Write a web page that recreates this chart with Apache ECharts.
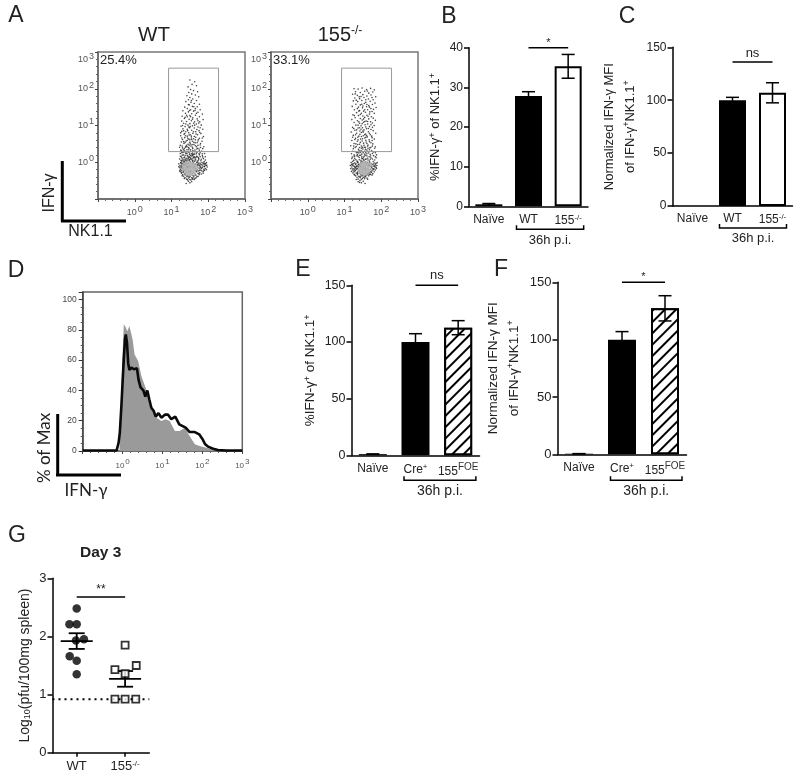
<!DOCTYPE html>
<html>
<head>
<meta charset="utf-8">
<title>Figure</title>
<script src="https://cdn.jsdelivr.net/npm/echarts@6/dist/echarts.min.js"></script>
<style>
  html, body { margin: 0; padding: 0; background: #fff; }
  #main { width: 800px; height: 778px; }
</style>
</head>
<body>
<div id="main"></div>
<script>
"use strict";
var FONT = '"Liberation Sans", Arial, sans-serif';

// panel A, dots as x,y pairs in hundredths of a decade
var wtDots = [
150,224, 163,219, 156,212, 145,205, 168,208, 152,198, 160,195, 147,190, 171,192, 155,186, 142,181, 165,183, 150,176, 174,178, 158,172, 146,170, 168,168, 139,165, 153,163, 162,160, 176,158, 148,156, 157,152, 136,150, 170,151, 143,146, 165,146, 152,143, 178,143, 131,140, 160,139, 146,137, 172,136, 138,133, 155,132, 184,131, 150,127, 165,128, 129,125, 143,124, 176,124, 158,121, 135,119, 170,118, 148,117, 186,116, 154,113, 128,112, 141,111, 163,110, 177,110, 133,106, 150,105, 168,104, 145,101, 181,101, 157,99, 126,98, 137,97, 172,96, 149,94, 162,93, 131,91, 143,90, 185,90, 155,87, 175,86, 128,84, 139,83, 166,83, 147,80, 158,79, 180,78, 134,76, 151,75, 171,75, 125,72, 143,71, 162,70, 187,70, 136,67, 154,66, 176,65, 147,63, 130,62, 165,61, 140,58, 157,57, 183,57, 127,55, 150,54, 170,53, 134,51, 145,49, 161,48, 178,47, 124,46, 153,44, 139,43, 168,42, 188,42, 130,39, 148,38, 158,37, 175,36, 142,34, 125,33, 164,33, 135,31, 152,30, 182,30, 146,28, 170,28, 128,26, 157,25, 139,24, 190,24, 163,22, 149,21, 132,20, 176,20, 143,18, 155,17, 124,16, 168,16, 136,14, 185,14, 150,13, 160,12, 129,11, 145,10, 174,10, 139,8, 155,7, 166,6, 192,6, 126,5, 148,5, 180,4, 133,3, 158,2, 142,1, 170,1,
154,168, 161,151, 149,141, 168,133, 141,128, 157,117, 172,113, 139,104, 163,101, 151,97, 144,86, 169,89, 133,86, 160,83, 177,81, 148,74, 138,72, 166,68, 155,62, 143,60, 172,58, 133,56, 161,54, 151,50, 179,51, 141,46, 129,44, 165,45, 157,41, 146,40, 135,37, 171,38, 152,34, 162,29, 140,28, 178,26, 131,27, 149,25, 168,23, 157,21, 137,19, 184,18, 145,16, 161,15, 127,14, 173,13, 152,11, 140,11, 164,9, 134,8, 181,8, 148,7, 158,5, 128,3, 172,4, 141,4, 151,2, 163,3, 189,2, 136,1,
125,-1, 133,-2, 142,-3, 151,-1, 160,-2, 169,-1, 178,-3, 187,-2, 195,-1, 128,-5, 137,-6, 146,-5, 155,-7, 164,-6, 173,-5, 182,-7, 191,-6, 123,-8, 131,-9, 140,-10, 149,-9, 158,-8, 167,-10, 176,-9, 185,-10, 194,-9, 126,-12, 135,-13, 144,-12, 153,-14, 162,-12, 171,-13, 180,-14, 189,-12, 197,-13, 122,-15, 130,-16, 139,-17, 148,-15, 157,-16, 166,-17, 175,-16, 184,-15, 192,-17, 125,-19, 134,-20, 143,-19, 152,-21, 161,-19, 170,-20, 179,-21, 188,-19, 128,-23, 137,-22, 146,-24, 155,-23, 164,-22, 173,-24, 182,-23, 190,-22, 124,-26, 132,-27, 141,-26, 150,-28, 159,-27, 168,-26, 177,-28, 186,-26, 127,-30, 136,-31, 145,-30, 154,-32, 163,-31, 172,-30, 181,-32, 130,-34, 139,-35, 148,-34, 157,-36, 166,-35, 175,-34, 133,-38, 142,-39, 151,-38, 160,-40, 169,-38, 137,-42, 146,-43, 155,-42, 164,-44, 141,-46, 150,-47, 158,-46, 146,-52, 155,-53, 140,-58,
129,-3, 147,-2, 165,-4, 183,-1, 136,-9, 154,-11, 172,-8, 190,-11, 127,-15, 145,-18, 163,-14, 181,-17, 133,-24, 151,-25, 169,-23, 187,-24, 139,-29, 157,-29, 175,-31, 143,-36, 161,-37, 149,-41, 135,-33, 167,-42, 153,-48, 127,-10, 193,-4, 124,-21, 178,-12, 142,-14, 160,-10, 138,-4, 156,-3, 174,-2, 131,-12, 149,-6,
146,157, 164,141, 137,122, 152,124, 174,107, 160,106, 130,100, 147,96, 178,94, 167,77, 125,80, 136,78, 154,71, 184,66, 144,66, 128,66, 173,62, 160,64, 137,54, 148,46, 179,40, 122,41, 132,34, 144,29, 167,28, 158,31, 175,23, 129,19, 138,29, 152,18, 160,22, 184,23, 146,12, 122,9, 170,15, 134,13, 156,11, 178,15, 143,6, 163,14, 130,6, 187,10, 151,8, 174,7, 137,5, 192,15, 124,24, 148,15, 166,12, 158,18, 154,23, 142,23, 134,28, 176,31, 147,34, 169,36, 127,31, 138,41, 185,37, 156,48, 165,53, 142,42, 150,61, 172,46,
120,-12, 195,-20, 128,-28, 138,-16, 147,-12, 158,-13, 170,-6, 186,-5, 133,-7, 143,-6, 126,-2, 152,-9, 178,-7, 190,-3, 120,-4, 196,-8, 132,-19, 165,-24, 176,-22, 186,-30, 122,-24, 147,-38, 157,-44, 135,-44, 129,-37, 172,-39, 144,-48, 162,-47, 150,-56
];
var wtCore = [
135,-8, 142,-14, 149,-6, 156,-12, 163,-8, 138,-20, 146,-22, 153,-18, 160,-24, 141,-30, 149,-32, 134,-14, 152,-4, 144,-2, 168,-16, 157,-30
];
var koDots = [
126,200, 137,199, 148,202, 160,198, 171,201, 181,197, 130,192, 143,190, 155,193, 166,188, 177,191, 122,185, 135,182, 150,184, 161,180, 172,183, 185,178, 128,175, 141,173, 153,176, 165,172, 178,170, 124,167, 136,165, 147,168, 158,163, 170,166, 183,161, 131,158, 143,156, 154,160, 166,154, 176,157, 121,152, 138,150, 149,148, 160,151, 172,146, 186,149, 127,143, 141,141, 152,139, 163,143, 175,138, 133,135, 146,133, 157,136, 168,131, 181,133, 123,129, 138,127, 150,126, 161,128, 173,124, 129,121, 143,119, 155,122, 166,118, 178,120, 120,116, 135,113, 148,115, 159,112, 171,110, 184,114, 126,108, 141,106, 152,109, 163,104, 176,107, 131,101, 145,99, 156,102, 168,97, 181,100, 122,95, 137,93, 149,94, 160,91, 172,89, 128,87, 142,85, 153,88, 165,83, 178,86, 118,82, 133,79, 146,81, 157,77, 170,75, 185,79, 124,73, 139,71, 151,72, 162,69, 175,67, 130,65, 144,63, 155,66, 167,61, 181,63, 120,59, 135,57, 148,58, 159,55, 172,53, 126,51, 141,49, 152,52, 164,47, 177,50, 117,45, 132,43, 146,44, 157,41, 169,39, 184,42, 124,37, 138,35, 150,36, 161,33, 174,31, 129,29, 143,27, 155,30, 166,25, 179,28, 119,23, 135,21, 147,22, 158,19, 171,17, 187,20, 126,15, 140,13, 152,14, 163,11, 176,9, 131,7, 145,5, 157,8, 168,3, 182,6, 122,2, 136,1, 149,2,
140,178, 158,170, 147,158, 168,150, 135,146, 155,143, 143,130, 164,125, 152,118, 139,110, 172,102, 158,96, 145,90, 133,88, 165,92, 151,82, 142,76, 160,73, 174,71, 136,68, 149,64, 158,60, 128,62, 168,56, 143,54, 153,46, 136,48, 163,44, 176,44, 146,38, 129,40, 157,35, 168,34, 140,31, 151,26, 133,26, 161,23, 176,24, 144,19, 126,20, 154,17, 167,15, 137,16, 147,11, 159,9, 128,10, 172,12, 140,7, 153,5, 164,6, 134,3, 145,1, 178,2, 158,1, 125,5, 186,12, 184,26, 122,30, 120,10, 148,29, 155,75,
118,-1, 127,-2, 136,-1, 145,-3, 154,-2, 163,-1, 172,-3, 181,-2, 189,-1, 121,-5, 130,-6, 139,-5, 148,-7, 157,-5, 166,-6, 175,-7, 184,-5, 116,-9, 125,-10, 134,-9, 143,-11, 152,-10, 161,-9, 170,-11, 179,-10, 188,-9, 120,-13, 129,-14, 138,-13, 147,-15, 156,-14, 165,-13, 174,-15, 183,-13, 117,-17, 126,-18, 135,-17, 144,-19, 153,-18, 162,-17, 171,-19, 180,-18, 187,-17, 121,-21, 130,-22, 139,-21, 148,-23, 157,-22, 166,-21, 175,-23, 184,-21, 119,-25, 128,-26, 137,-25, 146,-27, 155,-26, 164,-25, 173,-27, 181,-26, 123,-29, 132,-30, 141,-29, 150,-31, 159,-30, 168,-29, 177,-31, 126,-33, 135,-34, 144,-33, 153,-35, 162,-34, 171,-33, 130,-37, 139,-38, 148,-37, 157,-39, 166,-37, 134,-41, 143,-42, 152,-41, 161,-43, 137,-46, 146,-47, 155,-45, 142,-50, 151,-52, 146,-56, 137,-53,
124,-4, 142,-8, 160,-4, 178,-5, 133,-12, 151,-13, 169,-8, 186,-14, 127,-21, 145,-16, 163,-20, 141,-24, 159,-27, 177,-18, 135,-28, 153,-29, 171,-26, 147,-34, 165,-31, 140,-40, 158,-36, 131,-16, 149,-20, 122,-8, 138,-7, 156,-9, 174,-12, 183,-8,
129,186, 162,194, 175,176, 145,179, 132,169, 161,157, 150,153, 139,139, 179,144, 127,127, 169,137, 148,105, 137,101, 155,111, 176,95, 125,92, 163,111, 141,94, 150,85, 168,79, 130,75, 137,61, 175,59, 146,70, 158,68, 122,68, 164,38, 154,41, 131,50, 141,40, 172,41, 125,44, 149,41, 161,51, 182,38, 136,27, 147,15, 158,27, 170,8, 128,17, 141,19, 179,18, 152,8, 164,29, 134,18, 121,14, 184,15, 145,32, 139,25, 170,21, 155,22, 149,10, 161,17,
119,-7, 128,-12, 137,-11, 146,-9, 165,-10, 182,-11, 131,-3, 150,-1, 168,-2, 186,-3, 123,-18, 133,-19, 143,-16, 157,-18, 179,-20, 125,-24, 136,-31, 150,-26, 161,-31, 168,-33, 175,-35, 128,-35, 144,-38, 155,-40, 163,-46, 132,-47, 149,-44, 141,-55, 156,-58
];
var koCore = [
145,-12, 152,-8, 160,-14, 166,-20, 148,-18, 156,-24, 162,-28, 142,-22, 150,-4, 158,-2, 168,-8, 154,-30, 146,-28
];
var gateBox = [[0.92, 0.29], [2.28, 0.29], [2.28, 2.56], [0.92, 2.56], [0.92, 0.29]];

// panel D, histogram outlines as [log10 x, % of max]
var histGray = [[-1, 0], [-0.08, 0], [-0.05, 18.7], [-0.01, 58], [0.03, 83.7], [0.08, 81.5], [0.12, 79], [0.17, 82.5], [0.21, 83.7], [0.25, 73.8], [0.30, 63.8], [0.39, 59.4], [0.47, 49.5], [0.56, 43], [0.62, 38.5], [0.70, 28.6], [0.85, 22], [0.97, 19.8], [1.08, 21], [1.18, 19.8], [1.31, 13.2], [1.43, 13.2], [1.56, 15.4], [1.68, 9.9], [1.81, 4.4], [1.93, 3.3], [2.10, 2.2], [2.31, 0.4], [3, 0]];
var histBlack = [[-1, 0.3], [-0.15, 0.3], [-0.10, 5.5], [-0.07, 12], [-0.03, 30], [0.02, 56], [0.06, 74], [0.08, 77], [0.11, 71.5], [0.14, 58], [0.17, 53.5], [0.22, 55], [0.28, 54], [0.36, 54.6], [0.40, 47], [0.45, 42], [0.52, 40], [0.57, 36], [0.62, 40], [0.67, 34], [0.72, 28.6], [0.78, 26.4], [0.83, 22.7], [0.90, 25], [0.97, 22], [1.06, 24], [1.14, 24], [1.22, 21], [1.32, 22.7], [1.42, 17.6], [1.47, 18.3], [1.58, 15.4], [1.68, 12.5], [1.81, 12.5], [1.92, 11], [2.00, 8], [2.07, 4.4], [2.14, 2.9], [2.27, 1.5], [2.39, 0.7], [2.60, 0.3], [3, 0.3]];

// bar panels
var catsKo = ['Naïve', 'WT', '155{s|-/-}'];
var catsFoe = ['Naïve', 'Cre{s|+}', '155{f|FOE}'];
var valuesB = [0.5, 27.8, 35.3];
var errorsB = [0.2, 1.1, 3];
var valuesC = [0, 100, 107];
var errorsC = [0, 2.7, 9.5];
var valuesE = [1, 100, 112.6];
var errorsE = [0.2, 7.3, 6.2];
var valuesF = [0.5, 100, 127.3];
var errorsF = [0.1, 7, 11];

// panel G
var catsG = ['WT', '155{s|-/-}'];
var pointsWt = [[0, 2.48], [-0.15, 2.21], [0, 2.21], [0.15, 1.95], [-0.015, 1.93], [-0.145, 1.66], [0, 1.58], [0, 1.35]];
var pointsKo = [[1, 1.85], [0.79, 1.43], [1.23, 1.5], [1, 1.36], [0.79, 0.92], [1, 0.92], [1.22, 0.92]];
var summaryG = [[0, 1.92, 0.135], [1, 1.27, 0.135]];
var detectionLimit = [[-0.5, 0.92], [1.5, 0.92]];

function pairs(flat) {
  var out = [];
  for (var i = 0; i < flat.length; i += 2) {
    out.push([flat[i] / 100, flat[i + 1] / 100]);
  }
  return out;
}

var grid = [], xAxis = [], yAxis = [], series = [];
var supRich = {
  s: { fontSize: 8, padding: [0, 0, 6, 0], fontFamily: FONT, color: '#222' },
  f: { fontSize: 10, padding: [0, 0, 8, 0], fontFamily: FONT, color: '#333' }
};
var HATCH = { symbol: 'rect', symbolSize: 1, dashArrayX: [1, 0], dashArrayY: [2, 6], rotation: -Math.PI / 4, color: '#000', backgroundColor: '#fff' };

function decadeLabel(v) {
  return v < 0 ? '' : '{a|10}{b|' + v + '}';
}

function logAxis(fontSize, margin) {
  return {
    type: 'value', min: -1, max: 3, interval: 1,
    splitLine: { show: false },
    axisLine: { show: true, onZero: false, lineStyle: { color: '#666', width: 1.5 } },
    axisTick: { show: true, length: 3, lineStyle: { color: '#444' } },
    minorTick: { show: true, splitNumber: 5, length: 2, lineStyle: { color: '#666' } },
    axisLabel: {
      margin: margin, formatter: decadeLabel,
      rich: {
        a: { fontSize: fontSize, color: '#555', fontFamily: FONT },
        b: { fontSize: fontSize, color: '#555', fontFamily: FONT, padding: [0, 0, 7, 1] }
      }
    }
  };
}

function addFlow(left, dots, core) {
  var i = grid.length;
  grid.push({ left: left, top: 52, width: 147, height: 147, show: true, borderColor: '#777', borderWidth: 1.5 });
  xAxis.push(logAxis(9, 6));
  var y = logAxis(9, 4);
  y.axisLabel.verticalAlignMaxLabel = 'top';
  yAxis.push(y);
  series.push({ type: 'scatter', xAxisIndex: i, yAxisIndex: i, data: pairs(dots), symbolSize: 1.6, itemStyle: { color: '#1a1a1a' }, silent: true });
  series.push({ type: 'scatter', xAxisIndex: i, yAxisIndex: i, data: pairs(core), symbolSize: 5, itemStyle: { color: '#b5b5b5', opacity: 0.75 }, silent: true, z: 3 });
  series.push({ type: 'line', xAxisIndex: i, yAxisIndex: i, data: gateBox, symbol: 'none', lineStyle: { color: '#999', width: 1 }, silent: true });
}

function errorSeries(i, values, errors, capHalf) {
  var data = [];
  for (var k = 0; k < values.length; k++) {
    if (errors[k] > 0) { data.push([k, values[k], errors[k]]); }
  }
  return {
    type: 'custom', xAxisIndex: i, yAxisIndex: i, data: data, z: 4, silent: true,
    renderItem: function (params, api) {
      var hi = api.coord([api.value(0), api.value(1) + api.value(2)]);
      var lo = api.coord([api.value(0), api.value(1) - api.value(2)]);
      var st = { stroke: '#000', lineWidth: 1.5, fill: null };
      return {
        type: 'group', children: [
          { type: 'line', shape: { x1: hi[0], y1: hi[1], x2: lo[0], y2: lo[1] }, style: st },
          { type: 'line', shape: { x1: hi[0] - capHalf, y1: hi[1], x2: hi[0] + capHalf, y2: hi[1] }, style: st },
          { type: 'line', shape: { x1: lo[0] - capHalf, y1: lo[1], x2: lo[0] + capHalf, y2: lo[1] }, style: st }
        ]
      };
    }
  };
}

// significance bar drawn from group to group, label sits above it
function sigSeries(i, from, to, level, label, dy, fontSize) {
  return {
    type: 'custom', xAxisIndex: i, yAxisIndex: i, data: [[from, to, level]], z: 5, silent: true,
    encode: { x: 0, y: 2 },
    renderItem: function (params, api) {
      var a = api.coord([api.value(0), api.value(2)]);
      var b = api.coord([api.value(1), api.value(2)]);
      return {
        type: 'group', children: [
          { type: 'line', shape: { x1: a[0], y1: a[1], x2: b[0], y2: b[1] }, style: { stroke: '#000', lineWidth: 1.5 } },
          { type: 'text', style: { text: label, x: (a[0] + b[0]) / 2, y: a[1] + dy, textAlign: 'center', textVerticalAlign: 'middle', fontSize: fontSize, fontFamily: FONT, fill: '#222' } }
        ]
      };
    }
  };
}

// "36h p.i." bracket under the two treated groups
function bracketSeries(i, cfg) {
  return {
    type: 'custom', xAxisIndex: i, yAxisIndex: i, data: [[1, 2, 0]], z: 5, silent: true,
    encode: { x: 0, y: 2 },
    renderItem: function (params, api) {
      var a = api.coord([api.value(0), 0]);
      var b = api.coord([api.value(1), 0]);
      var x1 = a[0] - cfg.dl, x2 = b[0] + cfg.dr, y = a[1] + cfg.dy;
      return {
        type: 'group', children: [
          { type: 'polyline', shape: { points: [[x1, y - 4], [x1, y], [x2, y], [x2, y - 4]] }, style: { stroke: '#000', lineWidth: 1.5, fill: null } },
          { type: 'text', style: { text: '36h p.i.', x: (x1 + x2) / 2, y: a[1] + cfg.dt, textAlign: 'center', textVerticalAlign: 'middle', fontSize: cfg.fs, fontFamily: FONT, fill: '#222' } }
        ]
      };
    }
  };
}

function addBars(cfg) {
  var i = grid.length;
  grid.push({ left: cfg.left, top: cfg.top, width: cfg.width, height: cfg.height });
  xAxis.push({
    type: 'category', data: cfg.cats,
    axisLine: { lineStyle: { color: '#000', width: 1.5 } },
    axisTick: { alignWithLabel: true, length: 4, lineStyle: { color: '#000', width: 1.5 } },
    axisLabel: { margin: 7, fontSize: 12, fontFamily: FONT, color: '#222', rich: supRich, interval: 0 }
  });
  yAxis.push({
    type: 'value', min: 0, max: cfg.max, interval: cfg.interval,
    name: cfg.name, nameLocation: 'middle', nameGap: cfg.nameGap, nameRotate: 90,
    nameTextStyle: {
      fontSize: cfg.nameSize, fontFamily: FONT, color: '#222', lineHeight: 21,
      rich: { s: { fontSize: 9, padding: [0, 0, 6, 0], fontFamily: FONT, color: '#222' } }
    },
    splitLine: { show: false },
    axisLine: { show: true, lineStyle: { color: '#000', width: 1.5 } },
    axisTick: { show: true, length: 5, lineStyle: { color: '#000', width: 1.5 } },
    axisLabel: { margin: 6, fontSize: cfg.tickSize, fontFamily: FONT, color: '#222' }
  });
  var styles = [
    { color: '#000', borderColor: '#000', borderWidth: 0 },
    { color: '#000', borderColor: '#000', borderWidth: 0 },
    cfg.hatch ? { color: '#fff', borderColor: '#000', borderWidth: 2, decal: HATCH } : { color: '#fff', borderColor: '#000', borderWidth: 2 }
  ];
  var data = [];
  for (var k = 0; k < cfg.values.length; k++) {
    data.push({ value: cfg.values[k], itemStyle: styles[k] });
  }
  series.push({ type: 'bar', xAxisIndex: i, yAxisIndex: i, data: data, barWidth: cfg.barWidth, silent: true });
  series.push(errorSeries(i, cfg.values, cfg.errors, 6.5));
  series.push(sigSeries(i, 1, 2, cfg.sigLevel, cfg.sigLabel, cfg.sigDy, cfg.sigSize));
  series.push(bracketSeries(i, cfg.bracket));
}

addFlow(98, wtDots, wtCore);
addFlow(271, koDots, koCore);

addBars({
  left: 469, top: 47.7, width: 119, height: 158.6, max: 40, interval: 10, cats: catsKo,
  values: valuesB, errors: errorsB, barWidth: 27, tickSize: 12, nameSize: 13, nameGap: 20,
  name: '%IFN-γ{s|+} of NK1.1{s|+}', sigLevel: 40, sigLabel: '*', sigDy: -5, sigSize: 11,
  bracket: { dl: 12, dr: 15.5, dy: 23, dt: 34, fs: 13 }
});
addBars({
  left: 672.5, top: 47.3, width: 120, height: 158.7, max: 150, interval: 50, cats: catsKo,
  values: valuesC, errors: errorsC, barWidth: 27, tickSize: 12, nameSize: 13, nameGap: 32,
  name: 'Normalized IFN-γ MFI\nof IFN-γ{s|+}NK1.1{s|+}', sigLevel: 136, sigLabel: 'ns', sigDy: -9, sigSize: 13,
  bracket: { dl: 13, dr: 14, dy: 22, dt: 32, fs: 13 }
});

// panel D
var gridD = grid.length;
grid.push({ left: 82.7, top: 292, width: 159.6, height: 159, show: true, borderColor: '#666', borderWidth: 1.5 });
xAxis.push(logAxis(8, 7));
yAxis.push({
  type: 'value', min: 0, max: 105, interval: 20,
  splitLine: { show: false },
  axisLine: { show: true, onZero: false, lineStyle: { color: '#444', width: 1.5 } },
  axisTick: { show: true, length: 4, lineStyle: { color: '#333' } },
  minorTick: { show: true, splitNumber: 4, length: 2, lineStyle: { color: '#555' } },
  axisLabel: { margin: 6, fontSize: 8.5, color: '#444', fontFamily: FONT, formatter: function (v) { return v > 100 ? '' : v; } }
});
series.push({ type: 'line', xAxisIndex: gridD, yAxisIndex: gridD, data: histGray, symbol: 'none', lineStyle: { width: 0 }, areaStyle: { color: '#9a9a9a', opacity: 1 }, silent: true });
series.push({ type: 'line', xAxisIndex: gridD, yAxisIndex: gridD, data: histBlack, symbol: 'none', lineStyle: { color: '#0a0a0a', width: 2.6 }, silent: true, z: 4 });

addBars({
  left: 351.5, top: 285.3, width: 128, height: 170, max: 150, interval: 50, cats: catsFoe, hatch: true,
  values: valuesE, errors: errorsE, barWidth: 28, tickSize: 12.5, nameSize: 13.5, nameGap: 30,
  name: '%IFN-γ{s|+} of NK1.1{s|+}', sigLevel: 150, sigLabel: 'ns', sigDy: -10, sigSize: 13,
  bracket: { dl: 11.5, dr: 17.7, dy: 25, dt: 36, fs: 14 }
});
addBars({
  left: 557.5, top: 282.3, width: 129, height: 172, max: 150, interval: 50, cats: catsFoe, hatch: true,
  values: valuesF, errors: errorsF, barWidth: 28, tickSize: 13, nameSize: 13.5, nameGap: 33,
  name: 'Normalized IFN-γ MFI\nof IFN-γ{s|+}NK1.1{s|+}', sigLevel: 150, sigLabel: '*', sigDy: -5, sigSize: 11,
  bracket: { dl: 11.5, dr: 17, dy: 26, dt: 37, fs: 14 }
});

// panel G
var gridG = grid.length;
grid.push({ left: 52.5, top: 578.3, width: 96.8, height: 174.4 });
xAxis.push({
  type: 'value', min: -0.5, max: 1.5,
  splitLine: { show: false },
  axisLine: { onZero: false, lineStyle: { color: '#000', width: 1.5 } },
  axisTick: { customValues: [0, 1], length: 4, lineStyle: { color: '#000', width: 1.5 } },
  axisLabel: {
    customValues: [0, 1], margin: 7, fontSize: 13, fontFamily: FONT, color: '#222', rich: supRich,
    formatter: function (v) { return catsG[v]; }
  }
});
yAxis.push({
  type: 'value', min: 0, max: 3, interval: 1,
  name: 'Log{d|10}(pfu/100mg spleen)', nameLocation: 'middle', nameGap: 20, nameRotate: 90,
  nameTextStyle: { fontSize: 14, fontFamily: FONT, color: '#222', rich: { d: { fontSize: 9, padding: [5, 0, 0, 0], fontFamily: FONT, color: '#222' } } },
  splitLine: { show: false },
  axisLine: { show: true, onZero: false, lineStyle: { color: '#000', width: 1.5 } },
  axisTick: { show: true, length: 5, lineStyle: { color: '#000', width: 1.5 } },
  axisLabel: { margin: 6, fontSize: 13, fontFamily: FONT, color: '#222' }
});
series.push({ type: 'line', xAxisIndex: gridG, yAxisIndex: gridG, data: detectionLimit, symbol: 'none', lineStyle: { color: '#000', width: 2, type: [2, 4] }, silent: true, z: 2 });
series.push({
  type: 'custom', xAxisIndex: gridG, yAxisIndex: gridG, data: summaryG, z: 3, silent: true,
  renderItem: function (params, api) {
    var m = api.coord([api.value(0), api.value(1)]);
    var hi = api.coord([api.value(0), api.value(1) + api.value(2)]);
    var lo = api.coord([api.value(0), api.value(1) - api.value(2)]);
    var st = { stroke: '#000', lineWidth: 1.8 };
    return {
      type: 'group', children: [
        { type: 'line', shape: { x1: m[0] - 16, y1: m[1], x2: m[0] + 16, y2: m[1] }, style: st },
        { type: 'line', shape: { x1: hi[0], y1: hi[1], x2: lo[0], y2: lo[1] }, style: st },
        { type: 'line', shape: { x1: hi[0] - 8, y1: hi[1], x2: hi[0] + 8, y2: hi[1] }, style: st },
        { type: 'line', shape: { x1: lo[0] - 8, y1: lo[1], x2: lo[0] + 8, y2: lo[1] }, style: st }
      ]
    };
  }
});
series.push({ type: 'scatter', xAxisIndex: gridG, yAxisIndex: gridG, data: pointsWt, symbol: 'circle', symbolSize: 8.5, itemStyle: { color: '#000' }, silent: true, z: 4 });
series.push({ type: 'scatter', xAxisIndex: gridG, yAxisIndex: gridG, data: pointsKo, symbol: 'rect', symbolSize: 7, itemStyle: { color: '#fff', borderColor: '#000', borderWidth: 1.8 }, silent: true, z: 4 });
series.push(sigSeries(gridG, 0, 1, 2.68, '**', -7, 12));

// each axis pair belongs to the grid of the same index
for (var n = 0; n < grid.length; n++) {
  xAxis[n].gridIndex = n;
  yAxis[n].gridIndex = n;
}

// letters, captions and the black scale bars are page furniture
function txt(x, y, text, size, opts) {
  opts = opts || {};
  return {
    type: 'text', x: x, y: y, rotation: opts.rot || 0, silent: true,
    style: {
      text: text, x: 0, y: 0, align: opts.align || 'center', verticalAlign: 'middle',
      fontSize: size, fontFamily: opts.family || FONT, fontWeight: opts.weight || 'normal',
      fill: opts.color || '#222', rich: opts.rich
    }
  };
}
function thick(x1, y1, x2, y2) {
  return { type: 'line', silent: true, shape: { x1: x1, y1: y1, x2: x2, y2: y2 }, style: { stroke: '#000', lineWidth: 3 } };
}
var titleRich = { s: { fontSize: 12, padding: [0, 0, 9, 0], fontFamily: FONT, fill: '#222' } };
var graphic = [
  txt(16, 16, 'A', 23), txt(449, 17, 'B', 23), txt(627, 17, 'C', 23), txt(16, 271, 'D', 23),
  txt(303, 270, 'E', 23), txt(501, 270, 'F', 23), txt(17, 536, 'G', 23),
  txt(154, 35, 'WT', 20.5),
  txt(340, 35, '155{s|-/-}', 20, { rich: titleRich }),
  txt(100, 60, '25.4%', 13, { align: 'left' }),
  txt(273, 60, '33.1%', 13, { align: 'left' }),
  thick(62.3, 161, 62.3, 221.7), thick(61, 221, 126, 221),
  txt(50, 193, 'IFN-γ', 16, { rot: Math.PI / 2 }),
  txt(90.5, 232, 'NK1.1', 16),
  thick(57.7, 414, 57.7, 475.7), thick(56, 475, 121, 475),
  txt(45, 448, '% of Max', 17, { rot: Math.PI / 2, family: 'Lato, sans-serif' }),
  txt(86, 491, 'IFN-γ', 17, { family: 'Lato, sans-serif' }),
  txt(100.7, 553, 'Day 3', 15.5, { weight: 'bold' })
];

var chart = echarts.init(document.getElementById('main'));
chart.setOption({
  animation: false,
  backgroundColor: '#fff',
  grid: grid,
  xAxis: xAxis,
  yAxis: yAxis,
  series: series,
  graphic: graphic
});
</script>
</body>
</html>
